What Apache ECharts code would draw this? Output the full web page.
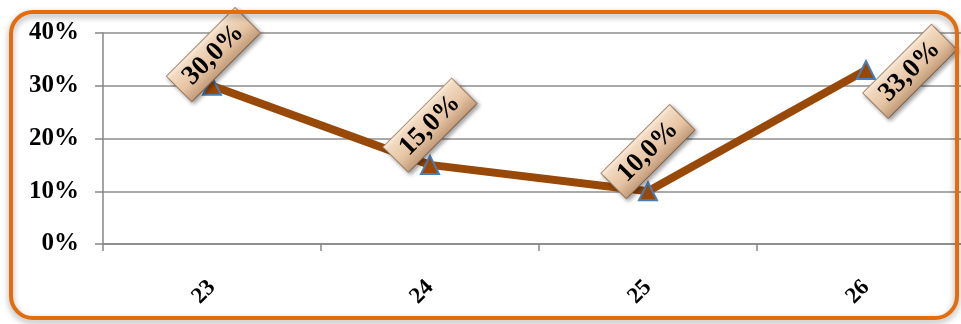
<!DOCTYPE html>
<html><head><meta charset="utf-8">
<script src="https://cdn.jsdelivr.net/npm/echarts@6/dist/echarts.min.js"></script>
<style>html,body{margin:0;padding:0;background:#fff}#c{width:961px;height:324px}</style>
</head><body><div id="c"></div>
<script>
const categories = ['23', '24', '25', '26'];
const values = [30, 15, 10, 33];
const yTicks = [0, 10, 20, 30, 40];

const chart = echarts.init(document.getElementById('c'));
const font = 'Liberation Serif';
const boxBg = {
  type: 'linear', x: 0, y: 0, x2: 0, y2: 1,
  colorStops: [
    {offset: 0, color: '#fbeee0'},
    {offset: 0.15, color: '#f1d9c0'},
    {offset: 0.6, color: '#e6c4a3'},
    {offset: 1, color: '#c19a78'}
  ]
};
function lbl(offset) {
  return {
    show: true, position: 'inside', rotate: 45, offset: offset,
    formatter: p => p.value.toFixed(1).replace('.', ',') + '%',
    fontFamily: font, fontWeight: 'bold', fontSize: 27, color: '#000',
    backgroundColor: boxBg, borderColor: '#b08e70', borderWidth: 1,
    padding: [5, 11, 3, 11],
    shadowColor: 'rgba(0,0,0,0.35)', shadowBlur: 4, shadowOffsetX: 2, shadowOffsetY: 2
  };
}
const offsets = [[23, -21], [28, -28], [28, -28], [30, 32]];
chart.setOption({
  animation: false,
  grid: {left: 103, top: 33, width: 872, height: 211, containLabel: false, outerBoundsMode: 'none'},
  xAxis: {
    type: 'category', data: categories, boundaryGap: true,
    axisLine: {lineStyle: {color: '#868686', width: 1.5}},
    axisTick: {show: true, length: 7, lineStyle: {color: '#868686', width: 1.5}},
    axisLabel: {rotate: 45, margin: 40, fontFamily: font, fontWeight: 'bold', fontSize: 23, color: '#000'}
  },
  yAxis: {
    type: 'value', min: 0, max: 40, interval: 10,
    axisLine: {show: true, lineStyle: {color: '#868686', width: 1.5}},
    axisTick: {show: true, length: 8, lineStyle: {color: '#868686', width: 1.5}},
    splitLine: {lineStyle: {color: '#8c8c8c', width: 1.5}},
    axisLabel: {margin: 24, fontFamily: font, fontWeight: 'bold', fontSize: 25, color: '#000',
      formatter: v => yTicks.includes(v) ? v + '%' : ''}
  },
  series: [{
    type: 'line', z: 3,
    data: values.map((v, i) => ({value: v, label: lbl(offsets[i])})),
    lineStyle: {color: '#984807', width: 8},
    symbol: 'triangle', symbolSize: 18,
    itemStyle: {color: '#984807', borderColor: '#4a7ebb', borderWidth: 2}
  }],
  graphic: [{
    type: 'rect', z: 100, silent: true,
    shape: {x: 11, y: 12, width: 946, height: 306, r: 22},
    style: {fill: 'none', stroke: '#e46c0a', lineWidth: 4,
      shadowColor: 'rgba(0,0,0,0.35)', shadowBlur: 6, shadowOffsetY: 3}
  }]
});
</script></body></html>
